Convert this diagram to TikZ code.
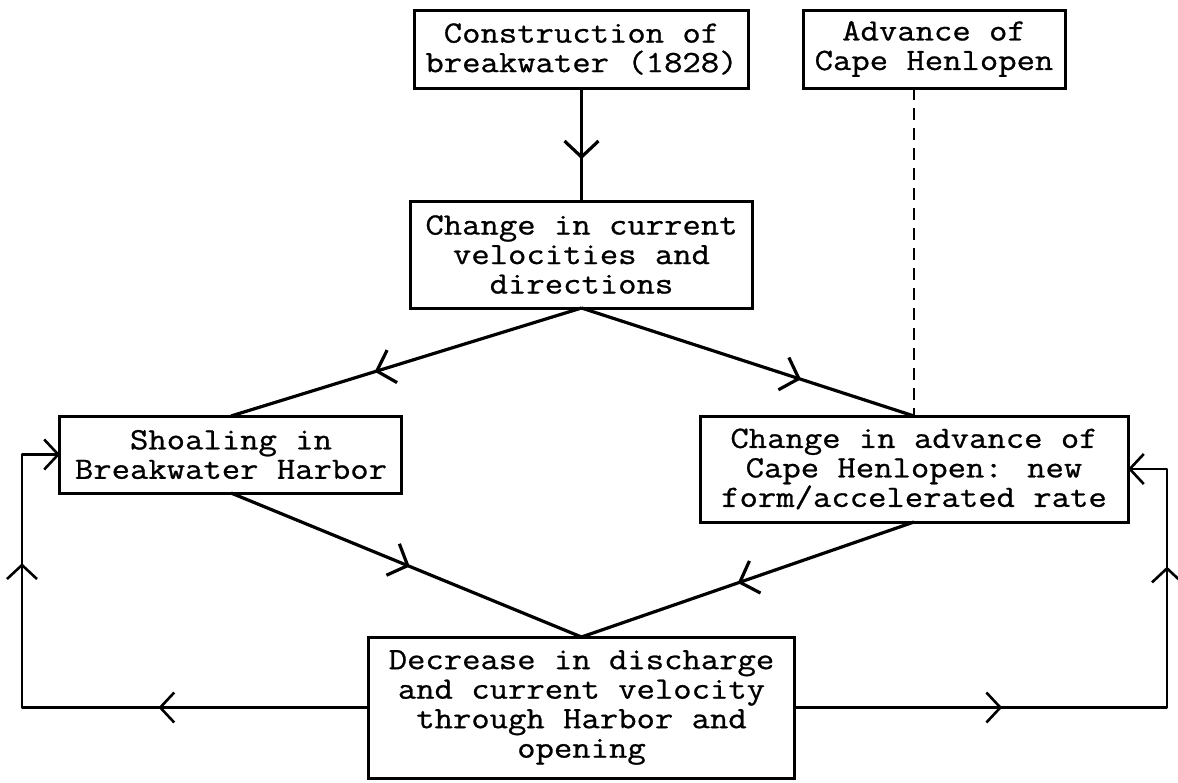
\documentclass[tikz,border=0pt]{standalone}
\usepackage{fontspec}
\usepackage{tikz}
\usetikzlibrary{arrows.meta, positioning, calc, decorations.markings}
\newfontfamily\typewr[FakeStretch=1.15, FakeBold=0.8]{Latin Modern Mono}

\begin{document}
\begin{tikzpicture}[
  node distance=56.5pt and 27.5pt,
  stage/.style={rectangle, draw, line width=1.5pt, align=center, outer sep=0pt,
                font=\typewr\fontsize{15.5}{14.75}\selectfont, inner sep=0pt},
  flow/.style={line width=1.6pt, line join=round},
  fback/.style={line width=1.3pt, line join=round},
  barb/.style={-{Straight Barb[length=7pt, width=15pt]}},
  midarr/.style={postaction={decorate}, decoration={markings,
      mark=at position #1 with {\arrow{Straight Barb[length=8pt, width=17pt]}}}},
  twoarr/.style 2 args={postaction={decorate}, decoration={markings,
      mark=at position #1 with {\arrow{Straight Barb[length=7pt, width=15pt]}},
      mark=at position #2 with {\arrow{Straight Barb[length=7pt, width=15pt]}}}}
]
\useasboundingbox (-290.75pt,24.5pt) rectangle (298.25pt,-366.5pt);

% ----- top row -----
\node[stage, minimum width=166.5pt, minimum height=39pt] (constr)
  {Construction of\\breakwater (1828)};
\node[stage, right=of constr, minimum width=131pt, minimum height=39pt] (adv)
  {Advance of\\Cape Henlopen};

% ----- middle -----
\node[stage, below=of constr, minimum width=170.5pt, minimum height=53.5pt] (chg)
  {Change in current\\velocities and\\directions};
\node[stage, below=54pt of chg, xshift=-175.25pt,
      minimum width=171pt, minimum height=38.5pt] (shoal)
  {Shoaling in\\Breakwater Harbor};
\node[stage, below=54pt of chg, xshift=166.25pt,
      minimum width=214pt, minimum height=53pt] (cape)
  {Change in advance of\\Cape Henlopen: new\\form/accelerated rate};

% ----- bottom -----
\node[stage, below=164.5pt of chg, minimum width=212.5pt, minimum height=70.5pt] (decr)
  {Decrease in discharge\\and current velocity\\through Harbor and\\opening};

\coordinate (loopL) at ($(shoal.west)+(-19pt,0)$);
\coordinate (loopR) at ($(cape.east)+(19.5pt,0)$);

% ----- arrows -----
\draw[flow, midarr=0.63] (constr) -- (chg);
\draw[flow, midarr=0.59] (chg.south) -- (shoal.north);
\draw[flow, midarr=0.66] (chg.south) -- (cape.north);
\draw[flow, midarr=0.51] (shoal.south) -- (decr.north);
\draw[flow, midarr=0.53] (cape.south) -- (decr.north);
\draw[fback, dash pattern=on 6pt off 4pt] (adv.south -| cape.north) -- (cape.north);

% ----- feedback loops -----
\draw[fback, barb, twoarr={0.33}{0.77}] (decr.west) -- (decr.west -| loopL) -- (loopL) -- (shoal.west);
\draw[fback, barb, twoarr={0.32}{0.79}] (decr.east) -- (decr.east -| loopR) -- (loopR) -- (cape.east);

\end{tikzpicture}
\end{document}
